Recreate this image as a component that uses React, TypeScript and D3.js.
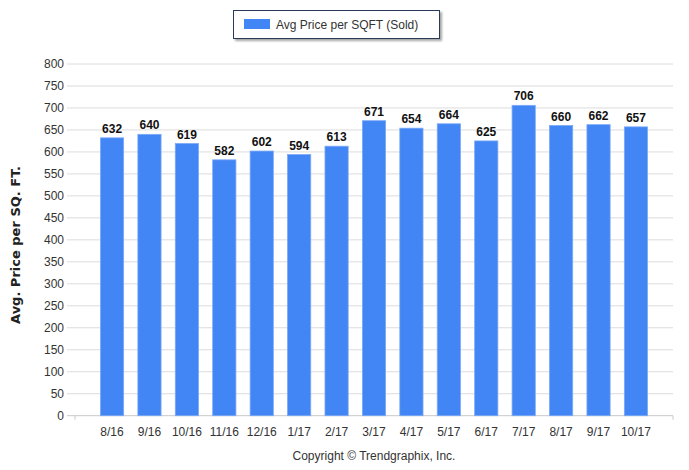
import React from "react";
import * as d3 from "d3";

const categories = ["8/16","9/16","10/16","11/16","12/16","1/17","2/17","3/17","4/17","5/17","6/17","7/17","8/17","9/17","10/17"];
const values = [632,640,619,582,602,594,613,671,654,664,625,706,660,662,657];
const yTicks = [0,50,100,150,200,250,300,350,400,450,500,550,600,650,700,750,800];
const seriesName = "Avg Price per SQFT (Sold)";
const yTitle = "Avg. Price per SQ. FT.";
const copyright = "Copyright © Trendgraphix, Inc.";

const W = 689, H = 470;
const left = 75, right = 673, top = 64, bottom = 415.7;
const font = "'Liberation Sans', Arial, sans-serif";

export default function App() {
  const x = d3.scaleBand<string>().domain(categories).range([left, right]).paddingInner(0.38).paddingOuter(0.68);
  const y = d3.scaleLinear().domain([0, 800]).range([bottom, top]);
  return (
    <svg width={W} height={H} style={{ position: "absolute", left: 0, top: 0, background: "#fff" }}>
      <defs>
        <filter id="sh" x="-10%" y="-30%" width="130%" height="180%">
          <feDropShadow dx="2" dy="2" stdDeviation="1" floodColor="#000" floodOpacity="0.35" />
        </filter>
      </defs>
      {yTicks.map(t => (
        <g key={t}>
          <line x1={67} x2={right} y1={y(t)} y2={y(t)} stroke={t === 0 ? "#c8c8c8" : "#dcdcdc"} strokeWidth={1} />
          <text x={64} y={y(t)} dy="0.35em" textAnchor="end" fontFamily={font} fontSize={12} fill="#333">{t}</text>
        </g>
      ))}
      <line x1={left} x2={left} y1={bottom} y2={bottom + 4} stroke="#c8c8c8" />
      <line x1={right} x2={right} y1={bottom} y2={bottom + 4} stroke="#c8c8c8" />
      {categories.map((c, i) => (
        <g key={c}>
          <rect x={x(c)!} y={y(values[i])} width={x.bandwidth()} height={bottom - y(values[i])} fill="#4285f4" stroke="#7aa8f7" strokeWidth={0.8} />
          <text x={x(c)! + x.bandwidth() / 2} y={y(values[i]) - 5} textAnchor="middle" fontFamily={font} fontSize={12} fontWeight="bold" fill="#111">{values[i]}</text>
          <text x={x(c)! + x.bandwidth() / 2} y={436} textAnchor="middle" fontFamily={font} fontSize={12} fill="#333">{c}</text>
        </g>
      ))}
      <text transform={`translate(20,245) rotate(-90)`} textAnchor="middle" fontFamily="'DejaVu Sans', Verdana, sans-serif" fontSize={13} fontWeight="bold" fill="#222">{yTitle}</text>
      <text x={374} y={460} textAnchor="middle" fontFamily={font} fontSize={12} fill="#333">{copyright}</text>
      <g>
        <rect x={233.5} y={10.5} width={206} height={28} fill="#fff" stroke="#2a3a5a" strokeWidth={1} filter="url(#sh)" />
        <rect x={244} y={19} width={26} height={10} fill="#4285f4" />
        <text x={276} y={24.5} dy="0.35em" fontFamily={font} fontSize={12} fill="#333">{seriesName}</text>
      </g>
    </svg>
  );
}
